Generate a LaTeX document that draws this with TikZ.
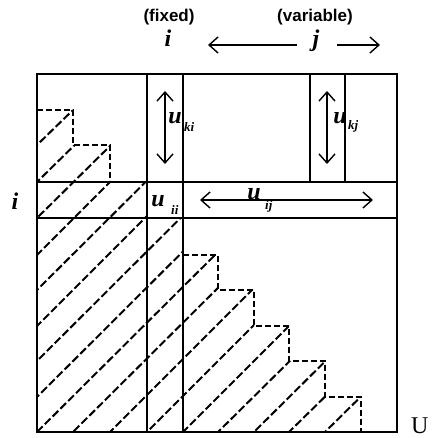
\documentclass[tikz,border=0pt]{standalone}
\usepackage{fontspec}
\setmainfont{Liberation Serif}
\newfontfamily\labelsans{Liberation Sans}
\usetikzlibrary{arrows.meta}

\begin{document}
\begin{tikzpicture}[x=1pt,y=-1pt,
  rule/.style={line width=2pt},
  stair/.style={line width=2pt, dash pattern=on 6pt off 3pt},
  hatch/.style={line width=2pt, dash pattern=on 8pt off 3pt},
  barb/.style={line width=1.4pt},
  dbl/.style={barb, {Straight Barb[length=9pt,width=16pt]}-{Straight Barb[length=9pt,width=16pt]}},
  lft/.style={barb, {Straight Barb[length=9pt,width=16pt]}-},
  rgt/.style={barb, -{Straight Barb[length=9pt,width=16pt]}},
  sym/.style={font=\fontsize{24}{24}\selectfont\bfseries\itshape, inner sep=0pt},
  sub/.style={font=\fontsize{13}{13}\selectfont\bfseries\itshape, inner sep=0pt},
  heading/.style={font=\fontsize{17}{17}\selectfont\labelsans\bfseries, inner sep=0pt}]

\useasboundingbox (0,0) rectangle (440,438);

% grid corners g-<column>-<row>, rows counted from the bottom
\foreach \cx [count=\k from 0] in {37,73,110,147,183,218,254,289,325,361,397}
  \foreach \ry [count=\m from 0] in {432,397,361,326,290,255,218,182,145,110,74}
    \coordinate (g-\k-\m) at (\cx,\ry);

% hatched (eliminated) part of the matrix: one diagonal per shift s
\begin{scope}
  \clip (37,110) -- (73,110) -- (73,145) -- (110,145) -- (110,182) -- (147,182)
     -- (147,218) -- (183,218) -- (183,255) -- (218,255) -- (218,290) -- (254,290)
     -- (254,326) -- (289,326) -- (289,361) -- (325,361) -- (325,397) -- (361,397)
     -- (361,432) -- (37,432) -- cycle;
  \foreach \s/\ph in {-9/0,-8/6,-7/2,-6/9,-5/4,-4/1,-3/7,-2/3,-1/10,0/0,
                      1/5,2/8,3/2,4/6,5/1,6/9,7/4,8/7,9/3} {
    \pgfmathtruncatemacro\ka{max(0,-\s)}
    \pgfmathtruncatemacro\ma{\ka+\s}
    \pgfmathtruncatemacro\kb{min(10,10-\s)}
    \pgfmathtruncatemacro\mb{\kb+\s}
    \draw[hatch, dash phase=\ph pt] (g-\ka-\ma) -- (g-\kb-\mb);
  }
\end{scope}

% staircase boundaries
\draw[stair] (37,110) -- (73,110) -- (73,145) -- (110,145) -- (110,182);
\draw[stair] (183,255) -- (218,255) -- (218,290) -- (254,290) -- (254,326)
  -- (289,326) -- (289,361) -- (325,361) -- (325,397) -- (361,397) -- (361,432);

% matrix frame, pivot row and column, column j
\draw[rule] (37,74) rectangle (397,432);
\draw[rule] (37,182) -- (397,182);
\draw[rule] (37,218) -- (397,218);
\draw[rule] (147,74) -- (147,432);
\draw[rule] (183,74) -- (183,432);
\draw[rule] (310,74) -- (310,182);
\draw[rule] (345,74) -- (345,182);

% headings
\node[heading] (fixed) at (169,17) {(fixed)};
\node[heading] (variable) at (315,17) {(variable)};
\node[sym, anchor=base] (itop) at (168,47) {i};
\node[sym, anchor=base] (jtop) at (316,47) {j};
\coordinate (jl) at (208,45);
\coordinate (jlr) at (297,45);
\coordinate (jrl) at (337,45);
\coordinate (jr) at (380,45);
\draw[lft] (jl) -- (jlr);
\draw[rgt] (jrl) -- (jr);

% row label
\node[sym, anchor=base] (ileft) at (15,210) {i};

% u_ki
\coordinate (kiT) at (165,91);
\coordinate (kiB) at (165,164);
\draw[dbl] (kiT) -- (kiB);
\node[sym, anchor=base] (uki) at (175,124) {u};
\node[sub, anchor=base west] (ki) at (184,132) {ki};

% u_kj
\coordinate (kjT) at (327,91);
\coordinate (kjB) at (327,164);
\draw[dbl] (kjT) -- (kjB);
\node[sym, anchor=base] (ukj) at (340,124) {u};
\node[sub, anchor=base west] (kj) at (348,130) {kj};

% u_ii
\node[sym, anchor=base] (uii) at (158,207) {u};
\node[sub, anchor=base west] (ii) at (171,215) {ii};

% u_ij
\coordinate (ijL) at (200,200);
\coordinate (ijR) at (373,200);
\draw[dbl] (ijL) -- (ijR);
\node[sym, anchor=base] (uij) at (254,200) {u};
\node[sub, anchor=base west] (ij) at (265,210) {ij};

% matrix name
\node[font=\fontsize{24}{24}\selectfont, inner sep=0pt, anchor=base west] (U) at (411,434) {U};
\end{tikzpicture}
\end{document}
